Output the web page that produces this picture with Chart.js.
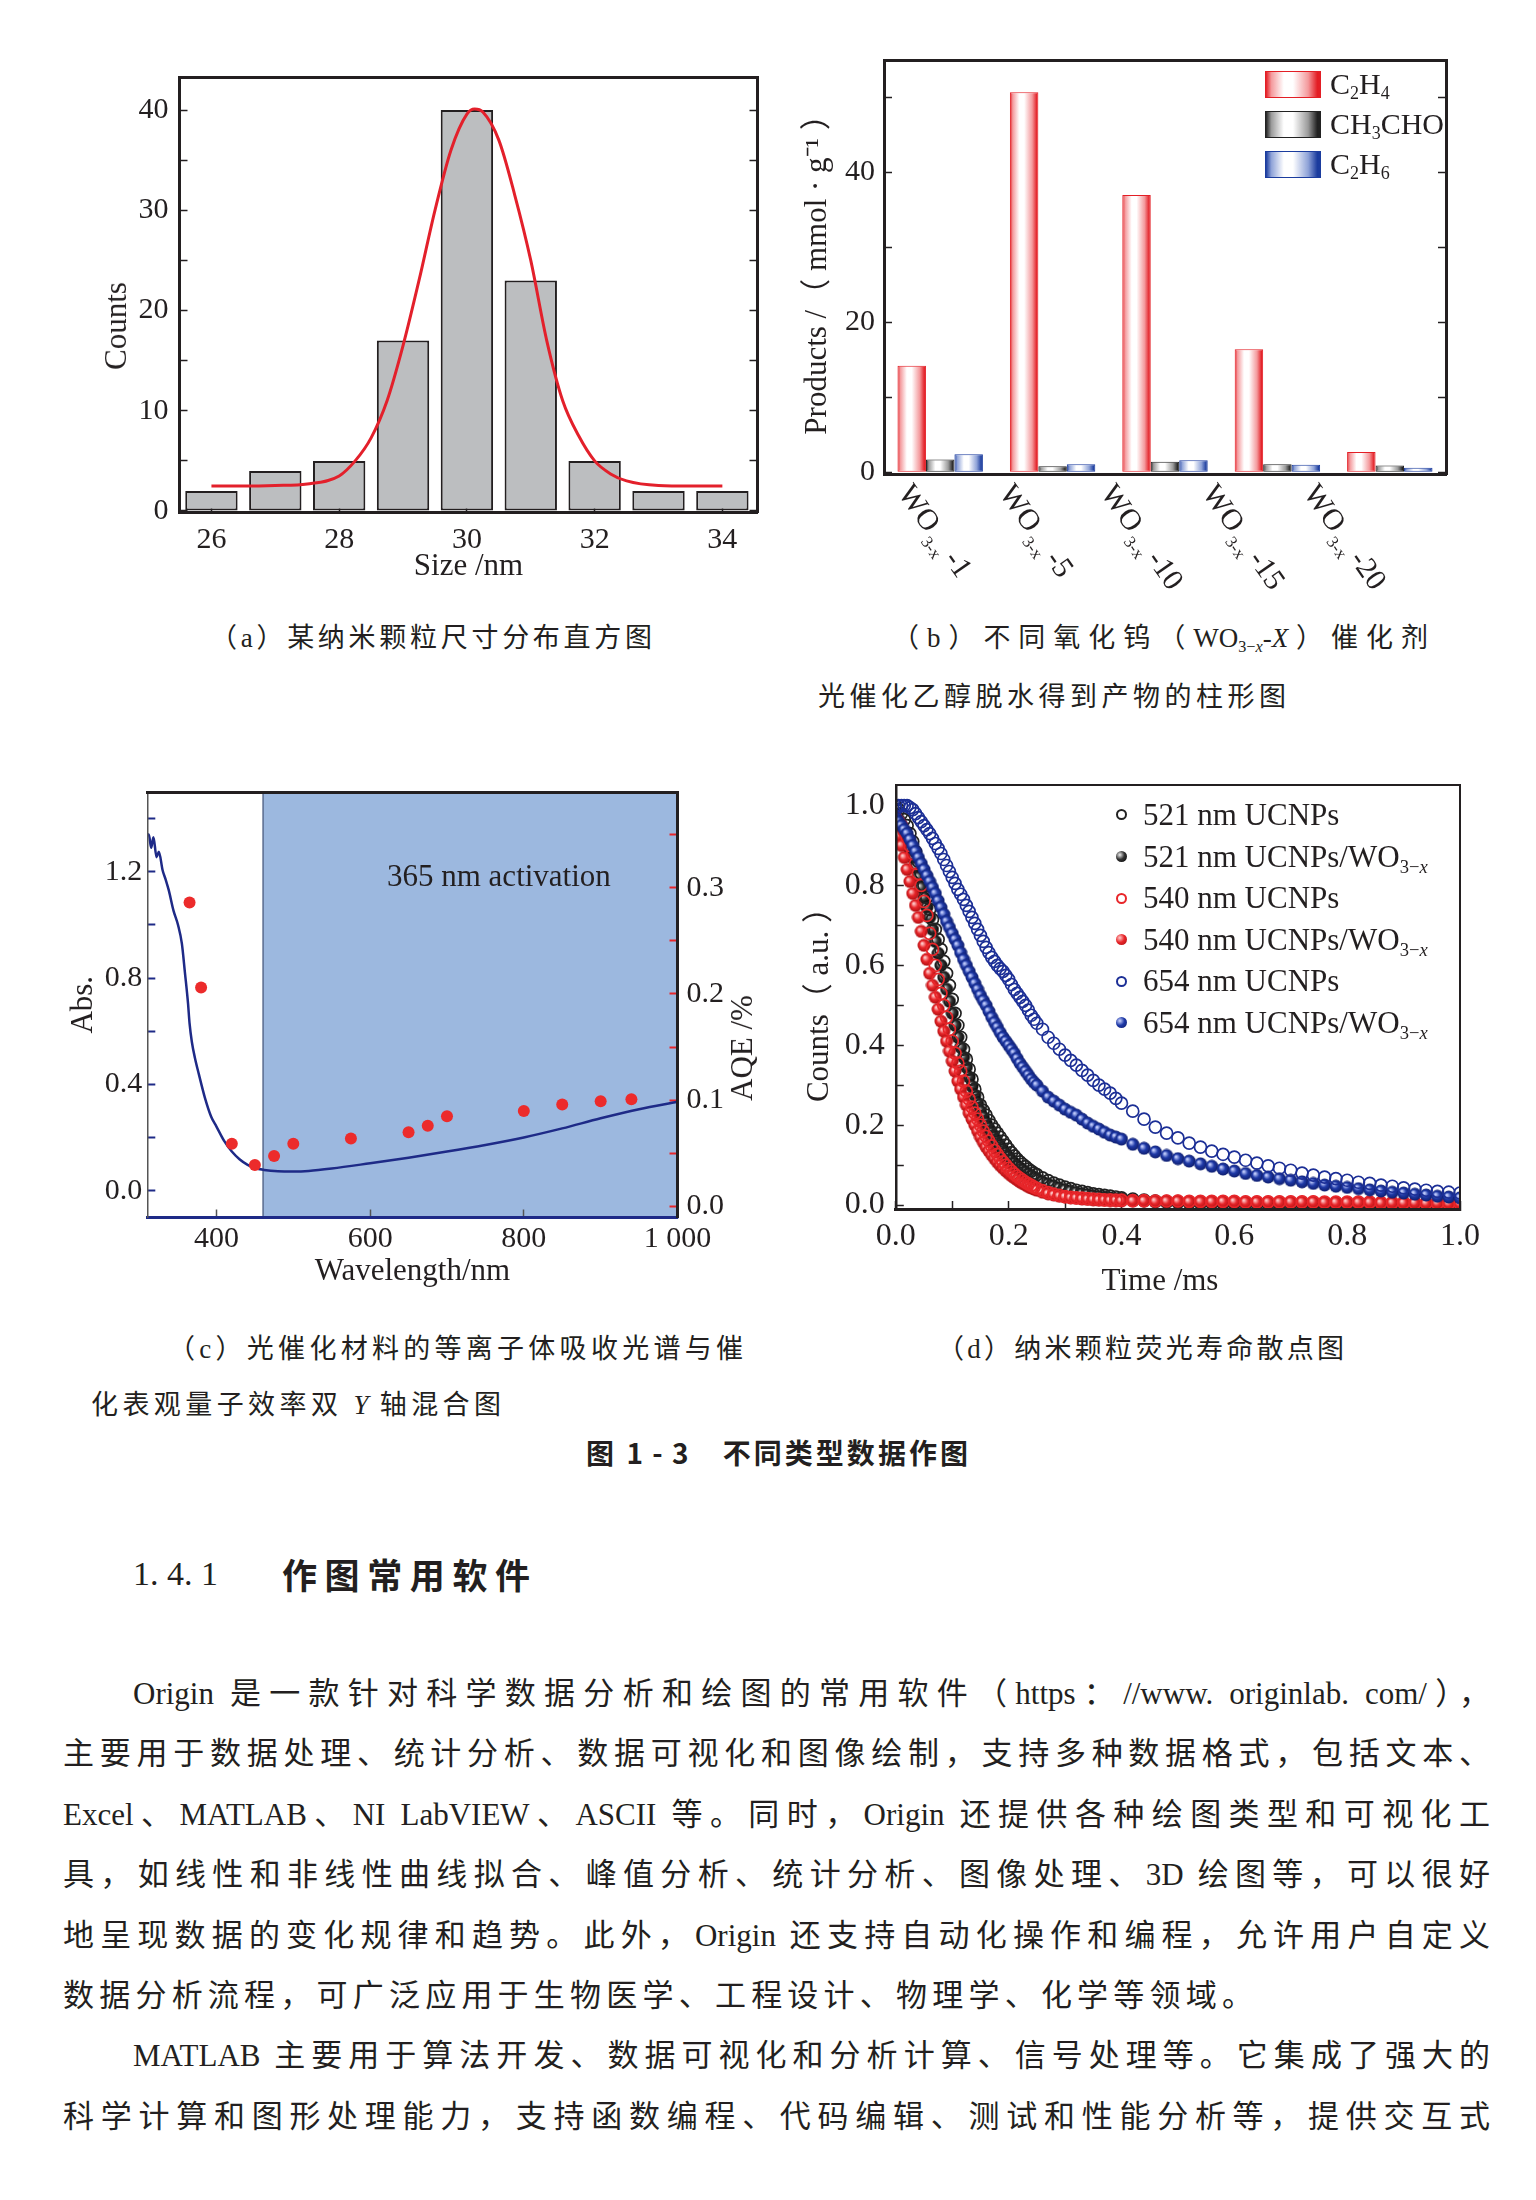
<!DOCTYPE html>
<html lang="zh-CN">
<head>
<meta charset="utf-8">
<title>图1-3 不同类型数据作图</title>
<script src="https://cdn.jsdelivr.net/npm/chart.js@4.4.1/dist/chart.umd.min.js"></script>
<style>
  html, body { margin: 0; padding: 0; background: #fff; }
  body {
    position: relative; width: 1536px; height: 2200px; overflow: hidden; color: #231f20;
    font-family: "Liberation Serif", "Noto Sans CJK SC", serif;
  }
  .chart { position: absolute; }
  .t { position: absolute; white-space: nowrap; height: 40px; line-height: 40px; }
  .j { text-align: justify; text-align-last: justify; }
  .cap { font-size: 27px; }
  .body { font-size: 31px; }
  .centred { transform: translate(-50%, -50%); }
  .upright { transform: translate(-50%, -50%) rotate(-90deg); }
  sub { font-size: 0.6em; vertical-align: -0.3em; line-height: 0; }
  .leg { position: absolute; white-space: nowrap; height: 40px; line-height: 40px; font-size: 30px; }
  .swatch { position: absolute; left: 1265px; width: 56px; height: 27px; box-sizing: border-box; }
  .dot { position: absolute; left: 1116px; width: 11px; height: 11px; border-radius: 50%; box-sizing: border-box; }
</style>
</head>
<body>

<div class="chart" style="left:90px;top:55px;width:700px;height:540px"><canvas id="sizeChart"></canvas></div>
<div class="chart" style="left:790px;top:40px;width:680px;height:560px"><canvas id="productChart"></canvas></div>
<div class="chart" style="left:55px;top:772px;width:720px;height:520px"><canvas id="absChart"></canvas></div>
<div class="chart" style="left:790px;top:765px;width:710px;height:535px"><canvas id="decayChart"></canvas></div>

<!-- (a) axis title -->
<div class="t upright" style="left:116px;top:326px;font-size:31px">Counts</div>

<!-- (b) legend -->
<div class="swatch" style="top:71px;border:1px solid #e31e25;background:linear-gradient(to right,#e31e25 0%,#f49a9d 10%,#fff 33%,#fff 50%,#f49a9d 78%,#e31e25 95%)"></div>
<div class="leg" style="left:1330px;top:64px">C<sub>2</sub>H<sub>4</sub></div>
<div class="swatch" style="top:111px;border:1px solid #222;background:linear-gradient(to right,#222 0%,#9b9b9b 10%,#fff 33%,#fff 50%,#9b9b9b 78%,#222 95%)"></div>
<div class="leg" style="left:1330px;top:104px">CH<sub>3</sub>CHO</div>
<div class="swatch" style="top:151px;border:1px solid #1b3c9e;background:linear-gradient(to right,#1b3c9e 0%,#8fa3d8 10%,#fff 33%,#fff 50%,#8fa3d8 78%,#1b3c9e 95%)"></div>
<div class="leg" style="left:1330px;top:144px">C<sub>2</sub>H<sub>6</sub></div>

<!-- (c) overlays -->
<div class="t" style="left:387px;top:856px;font-size:31px">365 nm activation</div>
<div class="t upright" style="left:742px;top:1048px;font-size:31px">AQE /%</div>

<!-- (d) overlays -->
<div class="t centred" style="left:1160px;top:1280px;font-size:31px">Time /ms</div>
<div class="dot" style="top:809px;border:2px solid #222;background:#fff"></div>
<div class="leg" style="left:1143px;top:795px;font-size:31px">521 nm UCNPs</div>
<div class="dot" style="top:851px;background:radial-gradient(circle at 35% 35%,#eee 0%,#333 45%,#000 100%)"></div>
<div class="leg" style="left:1143px;top:837px;font-size:31px">521 nm UCNPs/WO<sub>3−<i>x</i></sub></div>
<div class="dot" style="top:893px;border:2px solid #e8262a;background:#fff"></div>
<div class="leg" style="left:1143px;top:878px;font-size:31px">540 nm UCNPs</div>
<div class="dot" style="top:934px;background:radial-gradient(circle at 35% 35%,#fcc 0%,#e8262a 45%,#a80d10 100%)"></div>
<div class="leg" style="left:1143px;top:920px;font-size:31px">540 nm UCNPs/WO<sub>3−<i>x</i></sub></div>
<div class="dot" style="top:976px;border:2px solid #1c2f96;background:#fff"></div>
<div class="leg" style="left:1143px;top:961px;font-size:31px">654 nm UCNPs</div>
<div class="dot" style="top:1017px;background:radial-gradient(circle at 35% 35%,#cdd6ff 0%,#1f3aa8 45%,#0d1a66 100%)"></div>
<div class="leg" style="left:1143px;top:1003px;font-size:31px">654 nm UCNPs/WO<sub>3−<i>x</i></sub></div>

<!-- captions -->
<div class="t cap j" style="left:210px;top:618px;width:442px">（a）某纳米颗粒尺寸分布直方图</div>
<div class="t cap j" style="left:892px;top:618px;width:536px">（b）不同氧化钨（WO<sub>3−<i>x</i></sub>-<i>X</i>）催化剂</div>
<div class="t cap j" style="left:818px;top:677px;width:468px">光催化乙醇脱水得到产物的柱形图</div>
<div class="t cap j" style="left:168px;top:1329px;width:575px">（c）光催化材料的等离子体吸收光谱与催</div>
<div class="t cap j" style="left:91px;top:1385px;width:410px">化表观量子效率双 <i>Y</i> 轴混合图</div>
<div class="t cap j" style="left:937px;top:1329px;width:407px">（d）纳米颗粒荧光寿命散点图</div>
<div class="t j" style="left:586px;top:1432px;width:382px;font-size:28px;font-weight:700;font-family:'Noto Sans CJK SC',sans-serif">图 1 - 3　不同类型数据作图</div>

<div class="t" style="left:133px;top:1554px;font-size:34px">1. 4. 1</div>
<div class="t j" style="left:282px;top:1554px;width:248px;font-size:35px;font-weight:700;font-family:'Noto Sans CJK SC',sans-serif">作图常用软件</div>

<div class="t body j" style="left:133px;top:1674px;width:1357px">Origin 是一款针对科学数据分析和绘图的常用软件（https：//www. originlab. com/），</div>
<div class="t body j" style="left:63px;top:1734px;width:1427px">主要用于数据处理、统计分析、数据可视化和图像绘制，支持多种数据格式，包括文本、</div>
<div class="t body j" style="left:63px;top:1795px;width:1427px">Excel、MATLAB、NI LabVIEW、ASCII 等。同时，Origin 还提供各种绘图类型和可视化工</div>
<div class="t body j" style="left:63px;top:1855px;width:1427px">具，如线性和非线性曲线拟合、峰值分析、统计分析、图像处理、3D 绘图等，可以很好</div>
<div class="t body j" style="left:63px;top:1916px;width:1427px">地呈现数据的变化规律和趋势。此外，Origin 还支持自动化操作和编程，允许用户自定义</div>
<div class="t body j" style="left:63px;top:1976px;width:1190px">数据分析流程，可广泛应用于生物医学、工程设计、物理学、化学等领域。</div>
<div class="t body j" style="left:133px;top:2036px;width:1357px">MATLAB 主要用于算法开发、数据可视化和分析计算、信号处理等。它集成了强大的</div>
<div class="t body j" style="left:63px;top:2097px;width:1427px">科学计算和图形处理能力，支持函数编程、代码编辑、测试和性能分析等，提供交互式</div>

<script>
// (a) particle size histogram + gaussian fit
const sizeBins = [26, 27, 28, 29, 30, 31, 32, 33, 34];
const sizeCounts = [2, 4, 5, 17, 40, 23, 5, 2, 2];
const fitSizes = [26, 26.5, 27, 27.5, 28, 28.25, 28.5, 28.75, 29, 29.25, 29.5, 29.75, 30, 30.12,
  30.25, 30.5, 30.75, 31, 31.25, 31.5, 31.75, 32, 32.25, 32.5, 33, 33.5, 34];
const fitCounts = [2.5, 2.5, 2.55, 2.7, 3.5, 5, 7.3, 11, 16.5, 23, 30, 36, 39.6, 40.1,
  39.8, 37, 31.5, 25, 17, 11, 7.5, 5, 3.7, 3, 2.55, 2.5, 2.5];
const sizeTicks = [26, 28, 30, 32, 34];
const countTicks = [0, 5, 10, 15, 20, 25, 30, 35, 40];
const countLabels = [0, 10, 20, 30, 40];

// (b) products per WO3-x catalyst
const catalystNo = ['1', '5', '10', '15', '20'];
const ethylene = [14.2, 50.7, 37.0, 16.4, 2.7];
const acetaldehyde = [1.7, 0.8, 1.4, 1.05, 0.9];
const ethane = [2.4, 1.05, 1.6, 1.0, 0.6];
const productTicks = [0, 10, 20, 30, 40, 50];
const productLabels = [0, 20, 40];

// (c) absorption spectrum + AQE
const wavelengths = [310, 312, 315, 318, 322, 325, 330, 334, 338, 344, 350, 355, 359, 363, 365,
  368, 372, 377, 385, 393, 400, 410, 420, 430, 440, 450, 462, 480, 500, 520, 550, 600, 650, 700,
  750, 800, 850, 900, 950, 1000];
const absorbance = [1.34, 1.34, 1.29, 1.33, 1.255, 1.275, 1.205, 1.17, 1.13, 1.055, 1.0, 0.93, 0.82,
  0.705, 0.63, 0.56, 0.5, 0.44, 0.35, 0.28, 0.242, 0.188, 0.148, 0.119, 0.099, 0.086, 0.079, 0.074,
  0.073, 0.075, 0.084, 0.104, 0.125, 0.148, 0.173, 0.201, 0.235, 0.273, 0.307, 0.335];
const aqeWavelengths = [365, 380, 420, 450, 475, 500, 575, 650, 675, 700, 800, 850, 900, 940];
const aqeValues = [0.286, 0.206, 0.059, 0.039, 0.0475, 0.059, 0.064, 0.070, 0.076, 0.085, 0.090,
  0.096, 0.099, 0.101];
const wlTicks = [400, 600, 800, 1000];
const absTicks = [0, 0.2, 0.4, 0.6, 0.8, 1.0, 1.2, 1.4];
const absLabels = [0, 0.4, 0.8, 1.2];
const aqeTicks = [0, 0.05, 0.1, 0.15, 0.2, 0.25, 0.3, 0.35];
const aqeLabels = [0, 0.1, 0.2, 0.3];
const activationFrom = 460;

// (d) fluorescence decay, ms
const times = [
  0, 0.005, 0.01, 0.015, 0.02, 0.025, 0.03, 0.035, 0.04, 0.045,
  0.05, 0.055, 0.06, 0.065, 0.07, 0.075, 0.08, 0.085, 0.09, 0.095,
  0.10, 0.105, 0.11, 0.115, 0.12, 0.125, 0.13, 0.135, 0.14, 0.145,
  0.15, 0.155, 0.16, 0.165, 0.17, 0.175, 0.18, 0.185, 0.19, 0.195,
  0.20, 0.205, 0.21, 0.215, 0.22, 0.225, 0.23, 0.235, 0.24, 0.245, 0.25,
  0.26, 0.27, 0.28, 0.29, 0.30, 0.31, 0.32, 0.33, 0.34, 0.35, 0.36, 0.37, 0.38, 0.39, 0.40,
  0.42, 0.44, 0.46, 0.48, 0.50, 0.52, 0.54, 0.56, 0.58, 0.60, 0.62, 0.64, 0.66, 0.68, 0.70,
  0.72, 0.74, 0.76, 0.78, 0.80, 0.82, 0.84, 0.86, 0.88, 0.90, 0.92, 0.94, 0.96, 0.98, 1.00];
const ucnp521 = [
  1.00, 0.99, 0.98, 0.965, 0.95, 0.93, 0.91, 0.885, 0.86, 0.83,
  0.80, 0.77, 0.74, 0.715, 0.69, 0.665, 0.64, 0.61, 0.58, 0.55,
  0.515, 0.48, 0.45, 0.42, 0.39, 0.365, 0.34, 0.315, 0.29, 0.27,
  0.25, 0.237, 0.225, 0.212, 0.20, 0.19, 0.18, 0.17, 0.16, 0.15,
  0.14, 0.131, 0.123, 0.115, 0.108, 0.102, 0.096, 0.09, 0.085, 0.08, 0.076,
  0.068, 0.061, 0.055, 0.05, 0.045, 0.041, 0.037, 0.034, 0.031, 0.028, 0.026, 0.024, 0.022, 0.02, 0.018,
  0.015, 0.012, 0.010, 0.008, 0.007, 0.006, 0.005, 0.005, 0.004, 0.004, 0.004, 0.003, 0.003, 0.003, 0.003,
  0.003, 0.002, 0.002, 0.002, 0.002, 0.002, 0.002, 0.002, 0.002, 0.002, 0.002, 0.001, 0.001, 0.001, 0.001];
const ucnp521WO = [
  0.98, 0.965, 0.95, 0.93, 0.91, 0.89, 0.87, 0.845, 0.82, 0.795,
  0.77, 0.745, 0.72, 0.69, 0.66, 0.63, 0.60, 0.57, 0.54, 0.51,
  0.48, 0.45, 0.42, 0.395, 0.37, 0.345, 0.32, 0.297, 0.275, 0.255,
  0.235, 0.22, 0.205, 0.192, 0.18, 0.169, 0.158, 0.148, 0.138, 0.129,
  0.12, 0.112, 0.105, 0.099, 0.093, 0.087, 0.082, 0.077, 0.073, 0.069, 0.065,
  0.058, 0.052, 0.047, 0.042, 0.038, 0.034, 0.031, 0.028, 0.026, 0.023, 0.021, 0.019, 0.017, 0.016, 0.015,
  0.012, 0.010, 0.008, 0.007, 0.006, 0.005, 0.004, 0.004, 0.003, 0.003, 0.003, 0.003, 0.002, 0.002, 0.002,
  0.002, 0.002, 0.002, 0.002, 0.002, 0.002, 0.002, 0.002, 0.002, 0.002, 0.001, 0.001, 0.001, 0.001, 0.001];
const ucnp540 = [
  0.97, 0.96, 0.95, 0.935, 0.92, 0.90, 0.88, 0.855, 0.83, 0.80,
  0.76, 0.725, 0.68, 0.64, 0.60, 0.565, 0.53, 0.50, 0.47, 0.44,
  0.41, 0.38, 0.355, 0.335, 0.31, 0.285, 0.265, 0.245, 0.23, 0.215,
  0.20, 0.185, 0.172, 0.16, 0.148, 0.137, 0.127, 0.117, 0.108, 0.10,
  0.092, 0.085, 0.078, 0.072, 0.067, 0.062, 0.057, 0.053, 0.049, 0.045, 0.042,
  0.036, 0.031, 0.027, 0.024, 0.021, 0.019, 0.018, 0.017, 0.016, 0.015, 0.014, 0.013, 0.013, 0.012, 0.012,
  0.011, 0.011, 0.010, 0.010, 0.010, 0.009, 0.009, 0.009, 0.009, 0.009, 0.008, 0.008, 0.008, 0.008, 0.008,
  0.008, 0.008, 0.007, 0.007, 0.007, 0.007, 0.007, 0.006, 0.006, 0.006, 0.005, 0.005, 0.004, 0.004, 0.003];
const ucnp540WO = [
  0.95, 0.925, 0.90, 0.87, 0.84, 0.81, 0.78, 0.75, 0.72, 0.685,
  0.65, 0.615, 0.58, 0.55, 0.52, 0.49, 0.46, 0.435, 0.41, 0.385,
  0.36, 0.335, 0.31, 0.29, 0.27, 0.25, 0.23, 0.215, 0.20, 0.185,
  0.17, 0.157, 0.145, 0.135, 0.125, 0.116, 0.107, 0.099, 0.092, 0.085,
  0.079, 0.073, 0.068, 0.063, 0.058, 0.054, 0.05, 0.046, 0.043, 0.04, 0.037,
  0.032, 0.028, 0.025, 0.022, 0.02, 0.018, 0.017, 0.015, 0.014, 0.013, 0.012, 0.012, 0.011, 0.011, 0.010,
  0.010, 0.010, 0.009, 0.009, 0.009, 0.008, 0.008, 0.008, 0.008, 0.008, 0.007, 0.007, 0.007, 0.007, 0.007,
  0.007, 0.007, 0.006, 0.006, 0.006, 0.006, 0.006, 0.005, 0.005, 0.005, 0.005, 0.004, 0.004, 0.003, 0.003];
const ucnp654 = [
  0.99, 1.00, 1.00, 1.00, 1.00, 0.995, 0.99, 0.98, 0.97, 0.96,
  0.95, 0.94, 0.93, 0.918, 0.905, 0.893, 0.88, 0.865, 0.85, 0.835,
  0.82, 0.805, 0.79, 0.778, 0.765, 0.75, 0.735, 0.72, 0.705, 0.69,
  0.675, 0.66, 0.645, 0.632, 0.62, 0.61, 0.60, 0.592, 0.585, 0.575,
  0.565, 0.552, 0.54, 0.53, 0.52, 0.51, 0.50, 0.488, 0.475, 0.465, 0.455,
  0.44, 0.42, 0.405, 0.39, 0.375, 0.362, 0.35, 0.337, 0.325, 0.312, 0.30, 0.29, 0.28, 0.267, 0.255,
  0.235, 0.215, 0.195, 0.18, 0.168, 0.155, 0.145, 0.135, 0.127, 0.12, 0.112, 0.105, 0.098, 0.092, 0.087,
  0.08, 0.075, 0.07, 0.066, 0.062, 0.057, 0.054, 0.05, 0.047, 0.043, 0.040, 0.037, 0.034, 0.032, 0.030];
const ucnp654WO = [
  0.97, 0.96, 0.95, 0.94, 0.93, 0.915, 0.90, 0.885, 0.87, 0.855,
  0.84, 0.825, 0.81, 0.795, 0.78, 0.762, 0.745, 0.728, 0.71, 0.695,
  0.68, 0.665, 0.65, 0.632, 0.615, 0.60, 0.585, 0.57, 0.555, 0.54,
  0.525, 0.512, 0.50, 0.485, 0.47, 0.457, 0.445, 0.432, 0.42, 0.41,
  0.40, 0.39, 0.38, 0.367, 0.355, 0.345, 0.335, 0.325, 0.315, 0.307, 0.30,
  0.285, 0.27, 0.26, 0.25, 0.24, 0.232, 0.225, 0.215, 0.205, 0.197, 0.19, 0.182, 0.175, 0.17, 0.165,
  0.152, 0.142, 0.133, 0.124, 0.116, 0.11, 0.103, 0.097, 0.09, 0.085, 0.079, 0.074, 0.07, 0.066, 0.062,
  0.058, 0.054, 0.05, 0.047, 0.044, 0.041, 0.038, 0.035, 0.032, 0.03, 0.027, 0.025, 0.022, 0.02, 0.018];
const timeTicks = [0, 0.1, 0.2, 0.3, 0.4, 0.5, 0.6, 0.7, 0.8, 0.9, 1.0];
const timeLabels = [0, 0.2, 0.4, 0.6, 0.8, 1.0];
const decayTicks = [0, 0.1, 0.2, 0.3, 0.4, 0.5, 0.6, 0.7, 0.8, 0.9, 1.0];
const decayLabels = [0, 0.2, 0.4, 0.6, 0.8, 1.0];

const INK = '#231f20';
const FONT = '"Liberation Serif", "Noto Sans CJK SC", serif';

Chart.defaults.font.family = FONT;
Chart.defaults.font.size = 30;
Chart.defaults.color = INK;
Chart.defaults.animation = false;
Chart.defaults.plugins.legend.display = false;
Chart.defaults.plugins.tooltip.enabled = false;
Chart.defaults.layout.autoPadding = false;

function pairs(xs, ys) {
  return xs.map((x, i) => ({ x: x, y: ys[i] }));
}

// axis box sizes are pinned so the plot area sits where the original frame is
function fixSize(size) {
  return function (scale) {
    if (scale.isHorizontal()) scale.height = size;
    else scale.width = size;
    scale.paddingTop = 0;
    scale.paddingBottom = 0;
    scale.paddingLeft = 0;
    scale.paddingRight = 0;
  };
}

function useTicks(values) {
  return function (scale) {
    scale.ticks = values.map(v => ({ value: v }));
  };
}

function labelsFor(list, digits) {
  return function (v) {
    if (!list.includes(v)) return '';
    return digits ? v.toFixed(digits) : String(v);
  };
}

function inward(color, width) {
  return { drawOnChartArea: false, tickLength: -8, tickWidth: width || 1.5, tickColor: color || INK };
}

function edge(width, color) {
  return { display: true, width: width, color: color || INK, z: 1 };
}

function frameOnly(position, size, width) {
  return {
    type: 'linear', position: position, min: 0, max: 1, offset: false,
    afterFit: fixSize(size),
    ticks: { display: false },
    grid: { display: false },
    border: edge(width)
  };
}

// ---------- (a) ----------
new Chart(document.getElementById('sizeChart'), {
  type: 'bar',
  data: {
    datasets: [
      {
        type: 'line', data: pairs(fitSizes, fitCounts), borderColor: '#e3202b', borderWidth: 3,
        pointRadius: 0, cubicInterpolationMode: 'monotone', order: 0
      },
      {
        type: 'bar', data: pairs(sizeBins, sizeCounts), backgroundColor: '#bcbec0', borderColor: INK,
        borderWidth: 2, borderSkipped: false, categoryPercentage: 0.82, barPercentage: 1, order: 1
      }
    ]
  },
  options: {
    responsive: true,
    maintainAspectRatio: false,
    scales: {
      x: {
        type: 'linear', position: 'bottom', min: 25.5, max: 34.55, offset: false,
        afterFit: fixSize(83), afterBuildTicks: useTicks(sizeTicks),
        grid: Object.assign(inward(), { offset: false }), border: edge(3),
        ticks: { padding: 18, autoSkip: false, maxRotation: 0 },
        title: { display: true, text: 'Size /nm', font: { size: 31 }, padding: { top: 0, bottom: 10 } }
      },
      y: {
        type: 'linear', position: 'left', min: -0.1, max: 43.3,
        afterFit: fixSize(89.5), afterBuildTicks: useTicks(countTicks),
        grid: inward(), border: edge(3),
        ticks: { padding: 19, callback: labelsFor(countLabels) }
      },
      y2: {
        type: 'linear', position: 'right', min: -0.1, max: 43.3,
        afterFit: fixSize(32.5), afterBuildTicks: useTicks(countTicks),
        grid: inward(), border: edge(3), ticks: { display: false }
      },
      x2: frameOnly('top', 22, 3)
    }
  }
});

// ---------- (b) ----------
const cylinderShade = {
  id: 'cylinderShade',
  beforeDatasetsDraw(chart) {
    const ctx = chart.ctx;
    chart.data.datasets.forEach((ds, i) => {
      chart.getDatasetMeta(i).data.forEach(bar => {
        const half = bar.width / 2;
        const g = ctx.createLinearGradient(bar.x - half, 0, bar.x + half, 0);
        g.addColorStop(0, ds.shade[0]);
        g.addColorStop(0.1, ds.shade[1]);
        g.addColorStop(0.33, '#ffffff');
        g.addColorStop(0.5, '#ffffff');
        g.addColorStop(0.78, ds.shade[1]);
        g.addColorStop(0.95, ds.shade[0]);
        g.addColorStop(1, ds.shade[0]);
        bar.options = Object.assign({}, bar.options, { backgroundColor: g });
      });
    });
  }
};

const slantedLabels = {
  id: 'slantedLabels',
  afterDraw(chart) {
    const ctx = chart.ctx;
    const x = chart.scales.x;
    ctx.save();
    ctx.fillStyle = INK;
    ctx.textBaseline = 'alphabetic';
    catalystNo.forEach((num, i) => {
      ctx.save();
      ctx.translate(x.getPixelForValue(i) - 43 - 11 * i, x.top + 19);
      ctx.rotate(55 * Math.PI / 180);
      ctx.font = '30px ' + FONT;
      ctx.fillText('WO', 0, 0);
      let w = ctx.measureText('WO').width + 3;
      ctx.font = '17px ' + FONT;
      ctx.fillText('3-x', w, 9);
      w += ctx.measureText('3-x').width + 5;
      ctx.font = '30px ' + FONT;
      ctx.fillText('-' + num, w, 0);
      ctx.restore();
    });
    ctx.restore();
  }
};

function productBars(label, values, dark, light) {
  return {
    label: label, data: values, shade: [dark, light],
    backgroundColor: dark, borderColor: dark, borderWidth: 1, borderSkipped: false,
    categoryPercentage: 0.76, barPercentage: 1
  };
}

new Chart(document.getElementById('productChart'), {
  type: 'bar',
  data: {
    labels: catalystNo,
    datasets: [
      productBars('C2H4', ethylene, '#e31e25', '#f49a9d'),
      productBars('CH3CHO', acetaldehyde, '#222222', '#9b9b9b'),
      productBars('C2H6', ethane, '#1b3c9e', '#8fa3d8')
    ]
  },
  options: {
    responsive: true,
    maintainAspectRatio: false,
    scales: {
      x: {
        type: 'category', position: 'bottom', afterFit: fixSize(126),
        grid: { display: false }, border: edge(3), ticks: { display: false }
      },
      y: {
        type: 'linear', position: 'left', min: -0.25, max: 55,
        afterFit: fixSize(94), afterBuildTicks: useTicks(productTicks),
        grid: inward(), border: edge(3),
        ticks: { padding: 17, callback: labelsFor(productLabels) },
        title: { display: true, text: 'Products /（ mmol · g⁻¹ ）', font: { size: 31 }, padding: { top: 9, bottom: 0 } }
      },
      y2: {
        type: 'linear', position: 'right', min: -0.25, max: 55,
        afterFit: fixSize(24), afterBuildTicks: useTicks(productTicks),
        grid: inward(), border: edge(3), ticks: { display: false }
      },
      x2: frameOnly('top', 20, 3)
    }
  },
  plugins: [cylinderShade, slantedLabels]
});

// ---------- (c) ----------
const activationShade = {
  id: 'activationShade',
  beforeDraw(chart) {
    const ctx = chart.ctx;
    const area = chart.chartArea;
    const left = chart.scales.x.getPixelForValue(activationFrom);
    ctx.save();
    ctx.fillStyle = '#9cb8df';
    ctx.fillRect(left, area.top, area.right - left, area.bottom - area.top);
    ctx.strokeStyle = '#3a4666';
    ctx.lineWidth = 1;
    ctx.beginPath();
    ctx.moveTo(left + 0.5, area.top);
    ctx.lineTo(left + 0.5, area.bottom);
    ctx.stroke();
    ctx.restore();
  }
};

new Chart(document.getElementById('absChart'), {
  type: 'line',
  data: {
    datasets: [
      {
        type: 'scatter', data: pairs(aqeWavelengths, aqeValues), yAxisID: 'y2',
        pointBackgroundColor: '#ec2b2b', pointBorderWidth: 0, pointRadius: 6, order: 0
      },
      {
        type: 'line', data: pairs(wavelengths, absorbance), yAxisID: 'y',
        borderColor: '#1e2a87', borderWidth: 2.5, pointRadius: 0,
        cubicInterpolationMode: 'monotone', order: 1
      }
    ]
  },
  options: {
    responsive: true,
    maintainAspectRatio: false,
    scales: {
      x: {
        type: 'linear', position: 'bottom', min: 310, max: 1000,
        afterFit: fixSize(74.5), afterBuildTicks: useTicks(wlTicks),
        grid: inward('#555555'), border: edge(3, '#1e2a87'),
        ticks: { padding: 12, autoSkip: false, maxRotation: 0, callback: v => (v === 1000 ? '1 000' : String(v)) },
        title: { display: true, text: 'Wavelength/nm', font: { size: 31 }, padding: { top: 0, bottom: 2 } }
      },
      y: {
        type: 'linear', position: 'left', min: -0.1, max: 1.5,
        afterFit: fixSize(92.3), afterBuildTicks: useTicks(absTicks),
        grid: inward('#1e2a87', 2), border: edge(1.5, '#555555'),
        ticks: { padding: 13, callback: labelsFor(absLabels, 1) },
        title: { display: true, text: 'Abs.', font: { size: 31 }, padding: { top: 10, bottom: 0 } }
      },
      y2: {
        type: 'linear', position: 'right', min: -0.0103, max: 0.39,
        afterFit: fixSize(97.5), afterBuildTicks: useTicks(aqeTicks),
        grid: inward('#e8262a', 2), border: edge(3),
        ticks: { padding: 17, callback: labelsFor(aqeLabels, 1) }
      },
      x2: frameOnly('top', 20, 3)
    }
  },
  plugins: [activationShade]
});

// ---------- (d) ----------
function sphere(light, base, dark) {
  const c = document.createElement('canvas');
  c.width = 14;
  c.height = 14;
  const g = c.getContext('2d');
  const grad = g.createRadialGradient(5, 5, 0.5, 7, 7, 7);
  grad.addColorStop(0, light);
  grad.addColorStop(0.45, base);
  grad.addColorStop(1, dark);
  g.fillStyle = grad;
  g.beginPath();
  g.arc(7, 7, 6.5, 0, Math.PI * 2);
  g.fill();
  return c;
}

function openSeries(label, values, color, order) {
  return {
    label: label, data: pairs(times, values), order: order,
    pointStyle: 'circle', pointRadius: 6, pointBorderWidth: 1.7,
    pointBorderColor: color, pointBackgroundColor: 'rgba(255,255,255,0)'
  };
}

function filledSeries(label, values, img, order) {
  return { label: label, data: pairs(times, values), order: order, pointStyle: img, pointRadius: 6.5 };
}

new Chart(document.getElementById('decayChart'), {
  type: 'scatter',
  data: {
    datasets: [
      openSeries('521 nm UCNPs', ucnp521, '#222222', 4),
      filledSeries('521 nm UCNPs/WO3-x', ucnp521WO, sphere('#dddddd', '#333333', '#000000'), 5),
      openSeries('540 nm UCNPs', ucnp540, '#e8262a', 2),
      filledSeries('540 nm UCNPs/WO3-x', ucnp540WO, sphere('#ffd0d0', '#e8262a', '#a80d10'), 3),
      openSeries('654 nm UCNPs', ucnp654, '#1c2f96', 0),
      filledSeries('654 nm UCNPs/WO3-x', ucnp654WO, sphere('#c8d2ff', '#1f3aa8', '#0d1a66'), 1)
    ]
  },
  options: {
    responsive: true,
    maintainAspectRatio: false,
    scales: {
      x: {
        type: 'linear', position: 'bottom', min: 0, max: 1,
        afterFit: fixSize(91), afterBuildTicks: useTicks(timeTicks),
        grid: inward(), border: edge(3),
        ticks: { padding: 16, autoSkip: false, maxRotation: 0, font: { size: 32 }, callback: labelsFor(timeLabels, 1) }
      },
      y: {
        type: 'linear', position: 'left', min: -0.01, max: 1.0515,
        afterFit: fixSize(105.8), afterBuildTicks: useTicks(decayTicks),
        grid: inward(), border: edge(2.5),
        ticks: { padding: 19, font: { size: 32 }, callback: labelsFor(decayLabels, 1) },
        title: { display: true, text: 'Counts（ a.u. ）', font: { size: 31 }, padding: { top: 11, bottom: 0 } }
      },
      y2: frameOnly('right', 40, 2),
      x2: frameOnly('top', 20, 2)
    }
  }
});
</script>
</body>
</html>
